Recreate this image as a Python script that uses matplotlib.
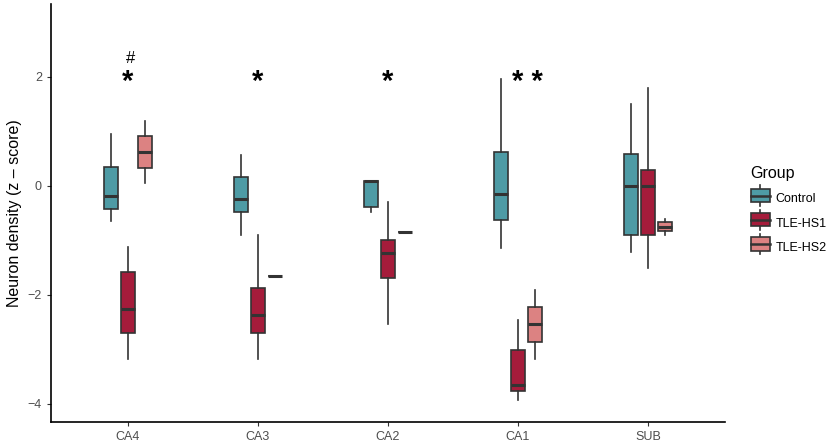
import matplotlib.pyplot as plt
from matplotlib.patches import Rectangle
from matplotlib.lines import Line2D
from matplotlib.legend_handler import HandlerBase

plt.rcParams['font.family'] = ['Liberation Sans', 'DejaVu Sans']

regions = ['CA4', 'CA3', 'CA2', 'CA1', 'SUB']
groups = ['Control', 'TLE-HS1', 'TLE-HS2']
colors = ['#4E9BA5', '#A51C3B', '#DC8282']

# per group: [whisker low, q1, median, q3, whisker high] for each region
control = [[-0.64, -0.42, -0.19, 0.34, 0.96],
           [-0.91, -0.48, -0.25, 0.16, 0.56],
           [-0.48, -0.39, 0.08, 0.08, 0.08],
           [-1.15, -0.62, -0.15, 0.63, 1.97],
           [-1.21, -0.91, -0.01, 0.59, 1.50]]
tle_hs1 = [[-3.19, -2.71, -2.27, -1.58, -1.12],
           [-3.19, -2.70, -2.37, -1.88, -0.91],
           [-2.53, -1.69, -1.23, -0.99, -0.30],
           [-3.93, -3.76, -3.66, -3.01, -2.47],
           [-1.51, -0.91, -0.01, 0.29, 1.80]]
tle_hs2 = [[0.06, 0.33, 0.62, 0.91, 1.19],
           [-1.66, -1.66, -1.66, -1.66, -1.66],
           [-0.85, -0.85, -0.85, -0.85, -0.85],
           [-3.19, -2.87, -2.54, -2.22, -1.91],
           [-0.90, -0.83, -0.75, -0.67, -0.61]]
data = [control, tle_hs1, tle_hs2]

# significance marks: (region index, x shift, y, text)
marks = [(0, 0.0, 2.0, '*'), (1, 0.0, 2.0, '*'), (2, 0.0, 2.0, '*'),
         (3, 0.07, 2.0, '* *'), (0, 0.02, 2.33, '#')]

edge = '#333333'
offset = 0.13
bw = 0.105

fig = plt.figure(figsize=(8.35, 4.42), dpi=100)
ax = fig.add_axes([0.0611, 0.045, 0.807, 0.946])

for g, (gdata, col) in enumerate(zip(data, colors)):
    stats = []
    for vals in gdata:
        lo, q1, med, q3, hi = vals
        stats.append(dict(whislo=lo, q1=q1, med=med, q3=q3, whishi=hi, fliers=[]))
    pos = [i + (g - 1) * offset for i in range(len(regions))]
    ax.bxp(stats, positions=pos, widths=bw, patch_artist=True, showcaps=False,
           boxprops=dict(facecolor=col, edgecolor=edge, linewidth=1.2),
           medianprops=dict(color=edge, linewidth=2.2, solid_capstyle='butt'),
           whiskerprops=dict(color=edge, linewidth=1.2), manage_ticks=False)

for i, dx, y, t in marks:
    if t == '#':
        ax.text(i + dx, y, t, ha='center', va='center', fontsize=12)
    else:
        ax.text(i + dx, y - 0.1, t, ha='center', va='center', fontsize=21,
                fontweight='bold')

ax.set_xlim(-0.59, 4.59)
ax.set_ylim(-4.34, 3.34)
ax.set_xticks(range(len(regions)))
ax.set_xticklabels(regions)
ax.set_yticks([-4, -2, 0, 2])
ax.set_yticklabels(['\u22124', '\u22122', '0', '2'])
ax.tick_params(colors='#333333', labelcolor='#4D4D4D', labelsize=9, length=3)
for s in ['top', 'right']:
    ax.spines[s].set_visible(False)
for s in ['left', 'bottom']:
    ax.spines[s].set_linewidth(1.2)
ax.set_ylabel('Neuron density (z \u2013 score)', fontsize=11.5)


class BoxKey(HandlerBase):
    def create_artists(self, legend, orig_handle, xd, yd, width, height, fontsize, trans):
        col = orig_handle.get_facecolor()
        cx = xd + width / 2
        r = Rectangle((xd, yd - height * 0.1), width, height * 1.2, facecolor=col,
                      edgecolor=edge, linewidth=1.2, transform=trans)
        m = Line2D([xd, xd + width], [yd + height / 2] * 2, color=edge, lw=1.8, transform=trans)
        w1 = Line2D([cx, cx], [yd - height * 0.4, yd - height * 0.1], color=edge, lw=1.2, transform=trans)
        w2 = Line2D([cx, cx], [yd + height * 1.1, yd + height * 1.4], color=edge, lw=1.2, transform=trans)
        return [w1, w2, r, m]


handles = [Rectangle((0, 0), 1, 1, facecolor=c) for c in colors]
leg = fig.legend(handles, groups, title='Group', handler_map={Rectangle: BoxKey()},
                 loc='upper left', bbox_to_anchor=(0.893, 0.635), frameon=False,
                 fontsize=9, title_fontsize=11.5, handlelength=1.55, handleheight=1.0,
                 labelspacing=0.9, handletextpad=0.45, borderaxespad=0)
leg._legend_box.align = 'left'

fig.savefig('out.png', dpi=100)
